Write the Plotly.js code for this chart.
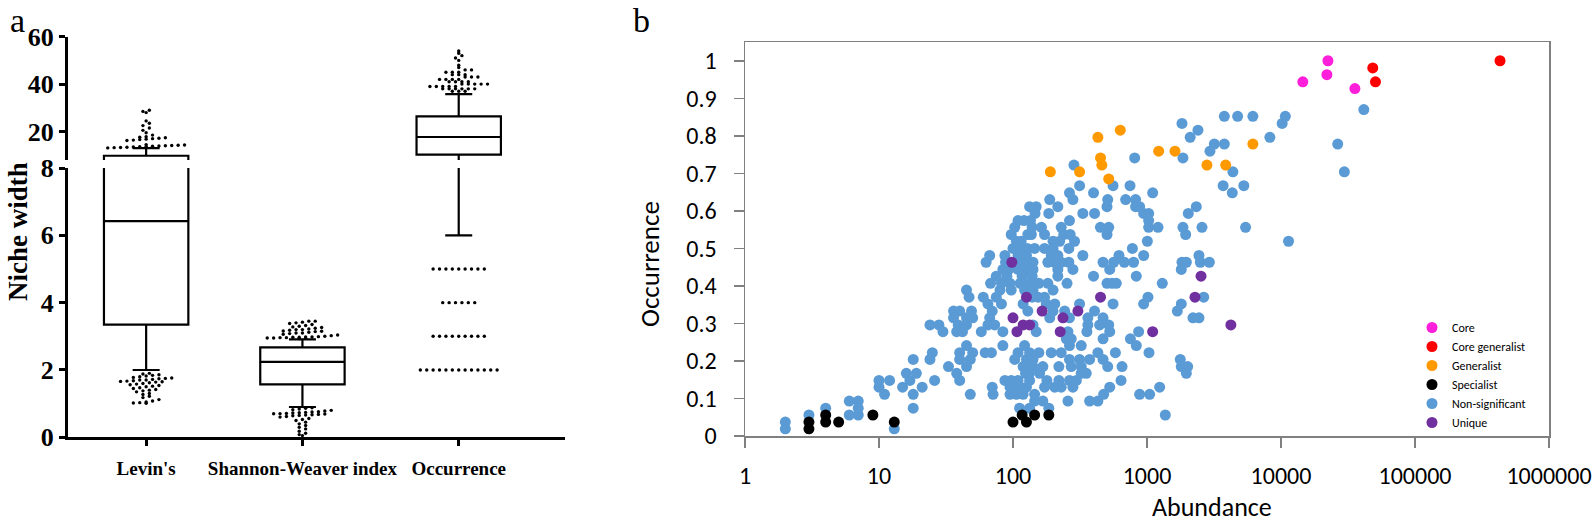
<!DOCTYPE html>
<html><head><meta charset="utf-8">
<script src="https://cdn.plot.ly/plotly-3.0.1.min.js"></script>
<style>html,body{margin:0;padding:0;background:#fff}#chart{width:1594px;height:527px}</style>
</head><body><div id="chart"></div>
<script>
// ---------------- Panel a data ----------------
const nicheCategories = ["Levin's", "Shannon-Weaver index", "Occurrence"];
const boxQ1 = [3.35, 1.57, 10.3];
const boxMedian = [6.42, 2.24, 17.7];
const boxQ3 = [9.8, 2.67, 26.4];
const boxLowerWhisker = [2.0, 0.9, 6.0];
const boxUpperWhisker = [13.0, 2.91, 35.8];
const levinsOutliers = [1.9,1.88,1.86,1.84,1.82,1.8,1.78,1.76,1.75,1.74,1.72,1.7,1.7,1.68,1.67,1.66,1.65,1.64,1.62,1.6,1.58,1.56,1.54,1.52,1.5,1.47,1.45,1.42,1.4,1.38,1.35,1.3,1.27,1.22,1.18,1.12,1.08,1.05,1.03,1.02,1.01,
  13.1,13.2,13.3,13.4,13.5,13.6,13.7,13.8,13.9,14.0,14.1,14.2,14.3,14.5,16.2,16.4,16.6,16.8,17.0,17.2,17.4,17.6,17.8,18.5,19.5,20.5,21.5,22.5,23.5,24.5,28,28.5,29];
const shannonOutliers = [2.93,2.94,2.95,2.95,2.96,2.96,2.97,2.97,2.98,2.98,2.99,3.0,3.02,3.04,3.06,3.08,3.1,3.1,3.12,3.14,3.15,3.16,3.18,3.2,3.2,3.22,3.24,3.26,3.28,3.3,3.32,3.35,3.38,3.4,3.42,3.45,3.45,
  0.05,0.08,0.12,0.18,0.25,0.3,0.35,0.4,0.45,0.5,0.53,0.56,0.6,0.62,0.64,0.65,0.66,0.67,0.68,0.69,0.7,0.7,0.71,0.72,0.73,0.74,0.75,0.76,0.78,0.8,0.82,0.84,0.86,0.88];
const occurrenceOutliers = [37,37,37,38,38,38,38,38,38,39,39,39,39,39,40,40,40,40,40,41,41,41,41,42,42,42,42,43,43,43,44,44,44,45,45,45,46,46,47,48,50,51,52,53,54,
  5,5,5,5,5,5,5,5,5, 4,4,4,4,4,4, 3,3,3,3,3,3,3,3,3, 2,2,2,2,2,2,2,2,2,2,2,2,2];

// ---------------- Panel b data ----------------
const coreAbundance = [22400, 22000, 14550, 35600];
const coreOccurrence = [1.0, 0.963, 0.944, 0.926];
const coreGeneralistAbundance = [48400, 50700, 431000];
const coreGeneralistOccurrence = [0.981, 0.944, 1.0];
const generalistAbundance = [190,314,430,450,460,518,632,1222,1618,2800,3865,6166];
const generalistOccurrence = [0.704,0.704,0.796,0.741,0.722,0.685,0.815,0.759,0.759,0.722,0.722,0.778];
const specialistAbundance = [3,3,4,4,5,9,13,100,117,126,145,185];
const specialistOccurrence = [0.037,0.019,0.056,0.037,0.037,0.056,0.037,0.037,0.056,0.037,0.056,0.056];
const uniqueAbundance = [98,100,107,119,133,126,165,236,225,305,450,2530,2280,4225,1102];
const uniqueOccurrence = [0.463,0.315,0.278,0.296,0.296,0.370,0.333,0.315,0.278,0.333,0.370,0.426,0.370,0.296,0.278];
const nonsigAbundance = [
2,2,3,4,6,6,7,7,7,13,10,10,12,11,15,16,17,18,18,18,19,21,
3776,4746,6166,10770,
41500,
10200,1824,
2400,
2100,8260,
3180,3776,26500,
2950,
809,1854,
285,
29700,4375,
314,558,747,3700,5280,
264,399,1102,4330,
280,188,509,693,822,
216,133,149,503,822,881,2333,
185,146,332,406,944,1029,2033,
264,109,121,135,1029,
103,139,163,229,449,518,1029,1208,1854,2572,5440,
97,129,137,172,239,267,503,1943,
199,223,288,106,115,1006,11380,
100,115,128,145,172,199,261,778,
109,126,193,216,332,67,87,618,944,2443,
88,106,119,141,182,205,229,261,63,470,564,677,794,1824,1966,2500,2920,
93,109,117,132,141,216,280,84,527,1803,
90,117,139,216,399,75,832,
68,82,95,113,133,156,182,253,503,548,590,1301,
80,97,122,141,199,45,
60,75,139,154,172,47,1017,2650,
65,82,119,177,205,314,558,944,1803,
36,40,49,70,129,199,243,406,1683,
36,45,50,67,188,264,362,470,2203,2443,
24,28,39,45,65,73,141,362,443,518,
30,38,42,58,84,149,257,356,866,527,
250,272,470,752,
45,84,122,264,323,832,
25,40,50,62,69,109,133,156,193,229,430,581,1035,
24,40,48,103,126,141,264,314,373,470,1772,
33,45,119,141,167,220,272,323,509,651,1803,2011,
38,124,133,158,323,352,1966,
26,40,87,97,109,133,179,220,264,297,640,
70,95,112,126,172,205,229,280,527,1243,
48,71,95,106,119,145,475,881,1047,
145,167,257,373,430,
112,133,185,
1370];
const nonsigOccurrence = [
0.037,0.019,0.056,0.074,0.093,0.056,0.093,0.074,0.056,0.019,0.148,0.130,0.148,0.111,0.130,0.167,0.148,0.204,0.111,0.074,0.167,0.130,
0.852,0.852,0.852,0.852,
0.870,
0.833,0.833,
0.815,
0.796,0.796,
0.778,0.778,0.778,
0.759,
0.741,0.741,
0.722,
0.704,0.704,
0.667,0.667,0.667,0.667,0.667,
0.648,0.648,0.648,0.648,
0.630,0.630,0.630,0.630,0.630,
0.611,0.611,0.611,0.611,0.611,0.611,0.611,
0.593,0.593,0.593,0.593,0.593,0.593,0.593,
0.574,0.574,0.574,0.574,0.574,
0.556,0.556,0.556,0.556,0.556,0.556,0.556,0.556,0.556,0.556,0.556,
0.537,0.537,0.537,0.537,0.537,0.537,0.537,0.537,
0.519,0.519,0.519,0.519,0.519,0.519,0.519,
0.500,0.500,0.500,0.500,0.500,0.500,0.500,0.500,
0.481,0.481,0.481,0.481,0.481,0.481,0.481,0.481,0.481,0.481,
0.463,0.463,0.463,0.463,0.463,0.463,0.463,0.463,0.463,0.463,0.463,0.463,0.463,0.463,0.463,0.463,0.463,
0.444,0.444,0.444,0.444,0.444,0.444,0.444,0.444,0.444,0.444,
0.426,0.426,0.426,0.426,0.426,0.426,0.426,
0.407,0.407,0.407,0.407,0.407,0.407,0.407,0.407,0.407,0.407,0.407,0.407,
0.389,0.389,0.389,0.389,0.389,0.389,
0.370,0.370,0.370,0.370,0.370,0.370,0.370,0.370,
0.352,0.352,0.352,0.352,0.352,0.352,0.352,0.352,0.352,
0.333,0.333,0.333,0.333,0.333,0.333,0.333,0.333,0.333,
0.315,0.315,0.315,0.315,0.315,0.315,0.315,0.315,0.315,0.315,
0.296,0.296,0.296,0.296,0.296,0.296,0.296,0.296,0.296,0.296,
0.278,0.278,0.278,0.278,0.278,0.278,0.278,0.278,0.278,0.278,
0.259,0.259,0.259,0.259,
0.241,0.241,0.241,0.241,0.241,0.241,
0.222,0.222,0.222,0.222,0.222,0.222,0.222,0.222,0.222,0.222,0.222,0.222,0.222,
0.204,0.204,0.204,0.204,0.204,0.204,0.204,0.204,0.204,0.204,0.204,
0.185,0.185,0.185,0.185,0.185,0.185,0.185,0.185,0.185,0.185,0.185,0.185,
0.167,0.167,0.167,0.167,0.167,0.167,0.167,
0.148,0.148,0.148,0.148,0.148,0.148,0.148,0.148,0.148,0.148,0.148,
0.130,0.130,0.130,0.130,0.130,0.130,0.130,0.130,0.130,0.130,
0.111,0.111,0.111,0.111,0.111,0.111,0.111,0.111,0.111,
0.093,0.093,0.093,0.093,0.093,
0.074,0.074,0.074,
0.056];
const xTickValues = [1, 10, 100, 1000, 10000, 100000, 1000000];
const xTickLabels = ["1", "10", "100", "1000", "10000", "100000", "1000000"];

// ---------------- layout geometry (pixels) ----------------
const W = 1594, H = 527;
const aX = {left: 68, right: 565, min: -0.5, max: 2.68};
const segLower = {top: 168, bottom: 437.3, min: 0, max: 8};
const segUpper = {top: 36.7, bottom: 160, min: 8, max: 60};
const bBox = {left: 745, right: 1549, top: 42, bottom: 436};
const px2fx = p => p / W;
const px2fy = p => 1 - p / H;
const pxPerX = (aX.right - aX.left) / (aX.max - aX.min);
const serif = "Liberation Serif, Times New Roman, serif";
const sans = "Carlito, Lato, sans-serif";

// binned dot-plot layout (GraphPad-like): points in the same vertical bin spread in a centred row
function swarm(values, pxPerY, binPx, gapX) {
  const bins = {};
  values.forEach((v, i) => {
    const b = Math.round(v * pxPerY / binPx);
    (bins[b] = bins[b] || []).push(i);
  });
  const out = new Array(values.length);
  Object.values(bins).forEach(list => {
    list.sort((a, b) => values[a] - values[b]);
    const n = list.length;
    list.forEach((idx, j) => { out[idx] = (j - (n - 1) / 2) * gapX; });
  });
  return out;
}

const traces = [];
['y', 'y2'].forEach(ax => {
  traces.push({
    type: 'box', xaxis: 'x', yaxis: ax,
    x: [0, 1, 2], q1: boxQ1, median: boxMedian, q3: boxQ3,
    lowerfence: boxLowerWhisker, upperfence: boxUpperWhisker,
    width: 0.54, whiskerwidth: 0.32, boxpoints: false,
    line: {color: '#000', width: 2.2}, fillcolor: 'rgba(0,0,0,0)',
    showlegend: false, hoverinfo: 'skip'
  });
});
[levinsOutliers, shannonOutliers, occurrenceOutliers].forEach((vals, cat) => {
  [[segLower, 'y', v => v < segLower.max], [segUpper, 'y2', v => v >= segLower.max]].forEach(([seg, ax, f]) => {
    const sub = vals.filter(f);
    if (!sub.length) return;
    const pxPerY = (seg.bottom - seg.top) / (seg.max - seg.min);
    const off = swarm(sub, pxPerY, 3.6, 6.4);
    traces.push({
      type: 'scatter', mode: 'markers', xaxis: 'x', yaxis: ax,
      x: off.map(o => cat + o / pxPerX), y: sub,
      marker: {size: 3.4, color: '#000'}, showlegend: false, hoverinfo: 'skip', cliponaxis: false
    });
  });
});

const n = Math.min(nonsigAbundance.length, nonsigOccurrence.length);
const groups = [
  ['Non-significant', nonsigAbundance.slice(0, n), nonsigOccurrence.slice(0, n), '#5B9BD5', 5],
  ['Unique', uniqueAbundance, uniqueOccurrence, '#7030A0', 6],
  ['Specialist', specialistAbundance, specialistOccurrence, '#000000', 4],
  ['Generalist', generalistAbundance, generalistOccurrence, '#FF9900', 3],
  ['Core generalist', coreGeneralistAbundance, coreGeneralistOccurrence, '#FF0000', 2],
  ['Core', coreAbundance, coreOccurrence, '#FF1FDA', 1]
];
groups.forEach(([name, xs, ys, col, rank]) => {
  traces.push({
    type: 'scatter', mode: 'markers', name, xaxis: 'x2', yaxis: 'y3',
    x: xs, y: ys, legendrank: rank,
    marker: {size: 11, color: col, line: {width: 0}}
  });
});

const layout = {
  width: W, height: H, autosize: false,
  margin: {l: 0, r: 0, t: 0, b: 0},
  paper_bgcolor: '#fff', plot_bgcolor: 'rgba(0,0,0,0)',
  showlegend: true,
  legend: {
    x: px2fx(1412), y: px2fy(313), xanchor: 'left', yanchor: 'top',
    font: {family: sans, size: 12, color: '#000'}, bgcolor: 'rgba(0,0,0,0)',
    tracegroupgap: 0, itemsizing: 'trace'
  },
  xaxis: {
    domain: [px2fx(aX.left), px2fx(aX.right)], range: [aX.min, aX.max], anchor: 'y',
    tickmode: 'array', tickvals: [0, 1, 2], ticktext: nicheCategories,
    ticks: 'outside', ticklen: 6, tickwidth: 3, tickcolor: '#000',
    showline: true, linewidth: 3, linecolor: '#000', showgrid: false, zeroline: false,
    tickfont: {family: serif, size: 19, color: '#000', weight: 'bold'}, ticklabelstandoff: 6
  },
  yaxis: {
    domain: [px2fy(segLower.bottom), px2fy(segLower.top)], range: [segLower.min, segLower.max], anchor: 'x',
    tickmode: 'array', tickvals: [0, 2, 4, 6, 8],
    ticks: 'outside', ticklen: 6, tickwidth: 3, tickcolor: '#000',
    showline: true, linewidth: 3, linecolor: '#000', showgrid: false, zeroline: false,
    tickfont: {family: serif, size: 26, color: '#000', weight: 'bold'}
  },
  yaxis2: {
    domain: [px2fy(segUpper.bottom), px2fy(segUpper.top)], range: [segUpper.min, segUpper.max], anchor: 'x',
    tickmode: 'array', tickvals: [20, 40, 60],
    ticks: 'outside', ticklen: 6, tickwidth: 3, tickcolor: '#000',
    showline: true, linewidth: 3, linecolor: '#000', showgrid: false, zeroline: false,
    tickfont: {family: serif, size: 26, color: '#000', weight: 'bold'}
  },
  xaxis2: {
    type: 'log', domain: [px2fx(bBox.left), px2fx(bBox.right)], range: [0, 6], anchor: 'y3',
    tickmode: 'array', tickvals: xTickValues, ticktext: xTickLabels,
    ticks: 'outside', ticklen: 10, tickwidth: 1.5, tickcolor: '#808080',
    showline: true, mirror: true, linewidth: 1.5, linecolor: '#808080', showgrid: false, zeroline: false,
    tickfont: {family: sans, size: 24, color: '#000'}, ticklabelstandoff: 8
  },
  yaxis3: {
    domain: [px2fy(bBox.bottom), px2fy(bBox.top)], range: [0, 1.05], anchor: 'x2',
    tickmode: 'linear', tick0: 0, dtick: 0.1,
    ticks: 'outside', ticklen: 10, tickwidth: 1.5, tickcolor: '#808080',
    showline: true, mirror: true, linewidth: 1.5, linecolor: '#808080', showgrid: false, zeroline: false,
    tickfont: {family: sans, size: 24, color: '#000'}, ticklabelstandoff: 12
  },
  annotations: [
    {text: 'a', xref: 'paper', yref: 'paper', x: px2fx(17), y: px2fy(21), xanchor: 'center', yanchor: 'middle', showarrow: false,
     font: {family: serif, size: 34, color: '#000'}},
    {text: 'b', xref: 'paper', yref: 'paper', x: px2fx(641), y: px2fy(21), xanchor: 'center', yanchor: 'middle', showarrow: false,
     font: {family: serif, size: 34, color: '#000'}},
    {text: 'Niche width', xref: 'paper', yref: 'paper', x: px2fx(18), y: px2fy(232), xanchor: 'center', yanchor: 'middle', textangle: -90, showarrow: false,
     font: {family: serif, size: 27, color: '#000', weight: 'bold'}},
    {text: 'Occurrence', xref: 'paper', yref: 'paper', x: px2fx(649), y: px2fy(264), xanchor: 'center', yanchor: 'middle', textangle: -90, showarrow: false,
     font: {family: sans, size: 27, color: '#000'}},
    {text: 'Abundance', xref: 'paper', yref: 'paper', x: px2fx(1212), y: px2fy(507), xanchor: 'center', yanchor: 'middle', showarrow: false,
     font: {family: sans, size: 26, color: '#000'}}
  ]
};

Plotly.newPlot('chart', traces, layout, {displayModeBar: false, staticPlot: true});
</script>
</body></html>
